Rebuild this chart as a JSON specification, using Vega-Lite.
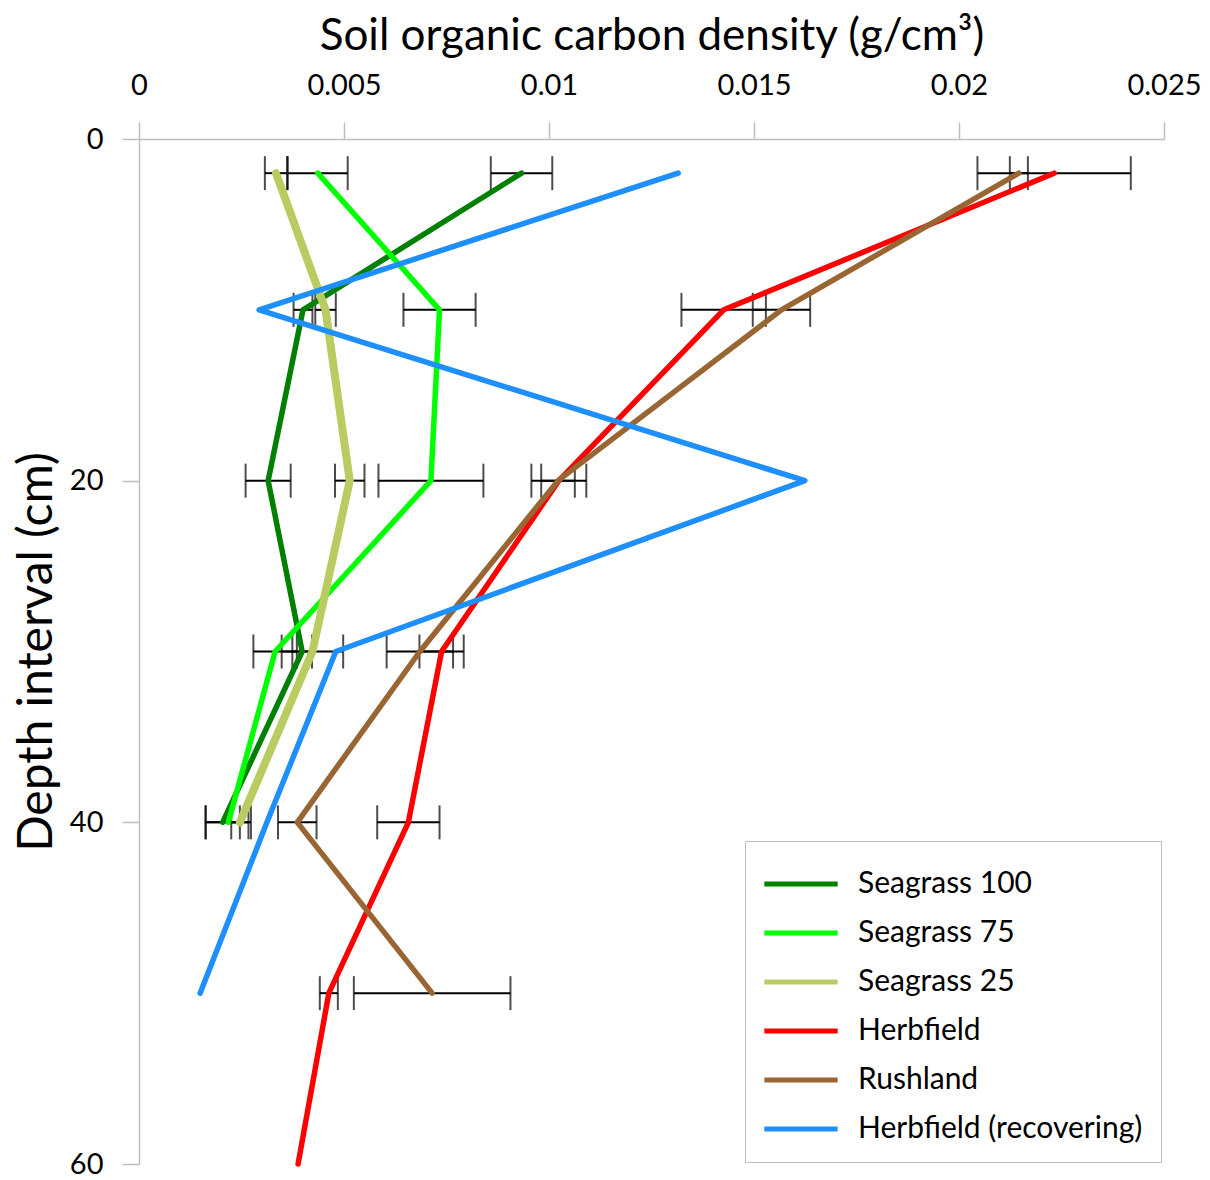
{
  "$schema": "https://vega.github.io/schema/vega-lite/v6.json",
  "width": 1025,
  "height": 1025,
  "autosize": {"type": "none"},
  "padding": {"left": 139, "top": 139, "right": 46, "bottom": 16},
  "background": "white",
  "config": {
    "font": "Lato",
    "view": {"stroke": null},
    "axis": {"grid": false, "labelFlush": false, "labelOverlap": false, "domainColor": "#bfbfbf", "domainWidth": 1.5, "tickColor": "#bfbfbf", "tickWidth": 1.5, "tickSize": 17, "labelColor": "black", "titleColor": "black", "titleFontWeight": "normal", "labelFont": "Lato", "titleFont": "Lato"}
  },
  "data": {
    "values": [
      {"series": "Seagrass 100", "depth": 2, "v": 0.00933, "err": 0.00075},
      {"series": "Seagrass 100", "depth": 10, "v": 0.0040, "err": 0.00023},
      {"series": "Seagrass 100", "depth": 20, "v": 0.00315, "err": 0.00055},
      {"series": "Seagrass 100", "depth": 30, "v": 0.00398, "err": 0.00024},
      {"series": "Seagrass 100", "depth": 40, "v": 0.00204, "err": 0.00042},
      {"series": "Seagrass 75", "depth": 2, "v": 0.00436, "err": 0.00073},
      {"series": "Seagrass 75", "depth": 10, "v": 0.00733, "err": 0.00088},
      {"series": "Seagrass 75", "depth": 20, "v": 0.00712, "err": 0.00128},
      {"series": "Seagrass 75", "depth": 30, "v": 0.00332, "err": 0.00053},
      {"series": "Seagrass 75", "depth": 40, "v": 0.00218, "err": 0.00055},
      {"series": "Seagrass 25", "depth": 2, "v": 0.00334, "err": 0.00027},
      {"series": "Seagrass 25", "depth": 10, "v": 0.00455, "err": 0.00025},
      {"series": "Seagrass 25", "depth": 20, "v": 0.00514, "err": 0.00036},
      {"series": "Seagrass 25", "depth": 30, "v": 0.00423, "err": 0.00075},
      {"series": "Seagrass 25", "depth": 40, "v": 0.00246, "err": 0.00021},
      {"series": "Herbfield", "depth": 2, "v": 0.02232, "err": 0.00187},
      {"series": "Herbfield", "depth": 10, "v": 0.01426, "err": 0.00103},
      {"series": "Herbfield", "depth": 20, "v": 0.01024, "err": 0.00067},
      {"series": "Herbfield", "depth": 30, "v": 0.00738, "err": 0.00054},
      {"series": "Herbfield", "depth": 40, "v": 0.00657, "err": 0.00076},
      {"series": "Herbfield", "depth": 50, "v": 0.00463, "err": 0.00022},
      {"series": "Herbfield", "depth": 60, "v": 0.00388, "err": null},
      {"series": "Rushland", "depth": 2, "v": 0.02146, "err": 0.00022},
      {"series": "Rushland", "depth": 10, "v": 0.01567, "err": 0.0007},
      {"series": "Rushland", "depth": 20, "v": 0.01022, "err": 0.00041},
      {"series": "Rushland", "depth": 30, "v": 0.00685, "err": 0.00081},
      {"series": "Rushland", "depth": 40, "v": 0.00386, "err": 0.00047},
      {"series": "Rushland", "depth": 50, "v": 0.00715, "err": 0.00191},
      {"series": "Herbfield (recovering)", "depth": 2, "v": 0.01315, "err": null},
      {"series": "Herbfield (recovering)", "depth": 10, "v": 0.00293, "err": null},
      {"series": "Herbfield (recovering)", "depth": 20, "v": 0.01624, "err": null},
      {"series": "Herbfield (recovering)", "depth": 30, "v": 0.0048, "err": null},
      {"series": "Herbfield (recovering)", "depth": 40, "v": 0.00312, "err": null},
      {"series": "Herbfield (recovering)", "depth": 50, "v": 0.00149, "err": null}
    ]
  },
  "encoding": {
    "y": {
      "field": "depth", "type": "quantitative",
      "scale": {"domain": [0, 60], "reverse": true, "nice": false, "zero": false},
      "axis": {"orient": "left", "values": [0, 20, 40, 60], "title": "Depth interval (cm)", "titleFontSize": 48, "titlePadding": 8, "labelFontSize": 29, "labelPadding": 19}
    },
    "x": {
      "field": "v", "type": "quantitative",
      "scale": {"domain": [0, 0.025], "nice": false},
      "axis": {"orient": "top", "values": [0, 0.005, 0.01, 0.015, 0.02, 0.025], "format": "~g", "title": "Soil organic carbon density (g/cm³)", "titleFontSize": 44, "titlePadding": 13, "labelFontSize": 29, "labelPadding": 22}
    },
    "order": {"field": "depth", "type": "quantitative"},
    "color": {
      "field": "series", "type": "nominal",
      "scale": {
        "domain": ["Seagrass 100", "Seagrass 75", "Seagrass 25", "Herbfield", "Rushland", "Herbfield (recovering)"],
        "range": ["#008000", "#00ff00", "#b8cc62", "#ff0000", "#996633", "#1e8fff"]
      },
      "legend": {
        "orient": "none", "legendX": 606, "legendY": 702, "title": null,
        "symbolType": "M-1.63,0H1.63", "symbolSize": 2025, "symbolStrokeWidth": 5,
        "labelFont": "Lato", "labelFontSize": 30, "labelColor": "black", "labelLimit": 500,
        "rowPadding": 9, "padding": 18, "strokeColor": "#bfbfbf", "fillColor": "white",
        "symbolOffset": 13, "labelOffset": 32
      }
    }
  },
  "layer": [
    {
      "transform": [{"filter": "isValid(datum.err)"}],
      "mark": {"type": "errorbar", "ticks": true, "size": 34, "thickness": 2, "color": "black"},
      "encoding": {
        "xError": {"field": "err"},
        "color": {"value": "black"},
        "detail": {"field": "series"}
      }
    },
    {
      "transform": [{"filter": {"field": "series", "oneOf": ["Seagrass 100", "Seagrass 75"]}}],
      "mark": {"type": "line", "strokeCap": "round", "strokeJoin": "round", "strokeWidth": 5.5}
    },
    {
      "transform": [{"filter": {"field": "series", "equal": "Seagrass 25"}}],
      "mark": {"type": "line", "strokeCap": "round", "strokeJoin": "round", "strokeWidth": 8}
    },
    {
      "transform": [{"filter": {"field": "series", "oneOf": ["Herbfield", "Rushland", "Herbfield (recovering)"]}}],
      "mark": {"type": "line", "strokeCap": "round", "strokeJoin": "round", "strokeWidth": 5.5}
    }
  ]
}
